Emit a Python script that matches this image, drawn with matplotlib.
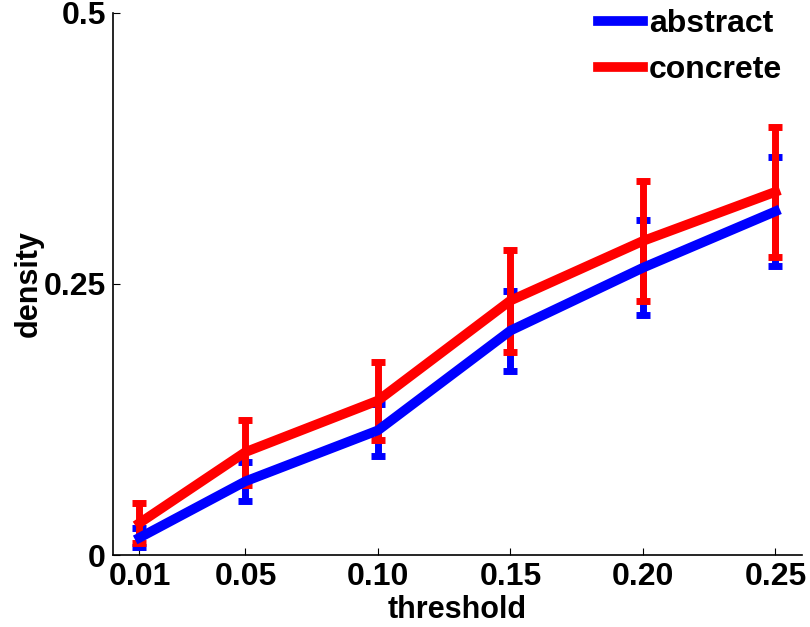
import matplotlib
matplotlib.use("Agg")
import matplotlib.pyplot as plt
from matplotlib.lines import Line2D

thresholds = [0.01, 0.05, 0.10, 0.15, 0.20, 0.25]
tick_labels = ["0.01", "0.05", "0.10", "0.15", "0.20", "0.25"]
abstract_mean = [0.016, 0.068, 0.115, 0.207, 0.265, 0.317]
abstract_err = [0.009, 0.018, 0.024, 0.037, 0.044, 0.050]
concrete_mean = [0.0295, 0.095, 0.1425, 0.2347, 0.2897, 0.335]
concrete_err = [0.0185, 0.030, 0.036, 0.047, 0.0555, 0.060]

plt.rcParams['font.family'] = ['Liberation Sans', 'DejaVu Sans']
plt.rcParams['font.weight'] = 'bold'

fig = plt.figure(figsize=(8.1, 6.27), dpi=100)
ax = fig.add_axes([0.1395, 0.1148, 0.8505, 0.8645])

ax.errorbar(thresholds, abstract_mean, yerr=abstract_err, color='#0000ff',
            lw=7, elinewidth=5, capsize=5, capthick=5)
ax.errorbar(thresholds, concrete_mean, yerr=concrete_err, color='#ff0000',
            lw=7, elinewidth=5, capsize=5, capthick=5)

ax.set_xlim(0, 0.26)
ax.set_ylim(0, 0.5)
ax.set_xticks(thresholds)
ax.set_xticklabels(tick_labels)
ax.set_yticks([0, 0.25, 0.5])
ax.set_yticklabels(["0", "0.25", "0.5"])
ax.tick_params(direction='in', labelsize=23, length=5, width=0.8, pad=5)
for lab in ax.get_xticklabels() + ax.get_yticklabels():
    lab.set_fontweight('bold')
ax.spines['top'].set_visible(False)
ax.spines['right'].set_visible(False)
for s in ['left', 'bottom']:
    ax.spines[s].set_linewidth(1.2)

ax.set_xlabel('threshold', fontsize=22, fontweight='bold', labelpad=2)
ax.set_ylabel('density', fontsize=22, fontweight='bold', labelpad=0)

handles = [Line2D([], [], color='#0000ff', lw=7),
           Line2D([], [], color='#ff0000', lw=7)]
leg = ax.legend(handles, ['abstract', 'concrete'], loc='upper right',
                frameon=False, fontsize=23, handlelength=1.4,
                handletextpad=0.2, labelspacing=0.5, borderaxespad=0.0,
                bbox_to_anchor=(0.99, 1.03))

fig.savefig('out.png', dpi=100)
